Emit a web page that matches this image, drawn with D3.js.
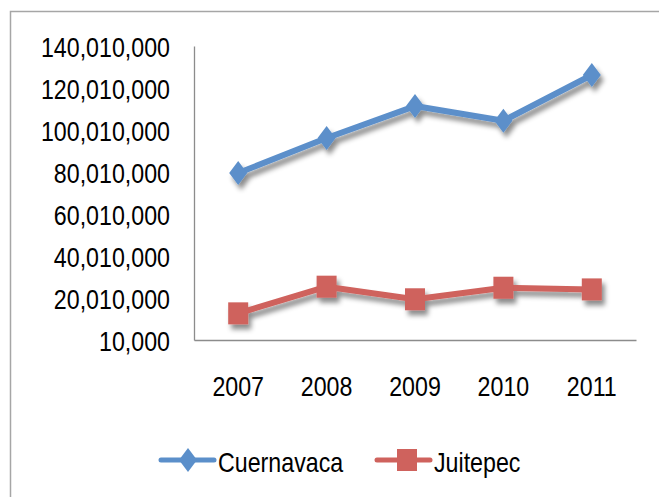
<!DOCTYPE html>
<html>
<head>
<meta charset="utf-8">
<script src="https://cdn.jsdelivr.net/npm/d3@7"></script>
<style>
  body { margin: 0; background: #fff; }
  text { font-family: "Liberation Sans", Arial, sans-serif; fill: #000; }
</style>
</head>
<body>
<div id="chart"></div>
<script>
// data
var years = ["2007", "2008", "2009", "2010", "2011"];
var cuernavaca = [79500000, 96200000, 111400000, 104400000, 126200000];
var juitepec = [12700000, 25400000, 19400000, 24900000, 24100000];
var yTicks = [10000, 20010000, 40010000, 60010000, 80010000, 100010000, 120010000, 140010000];
var seriesNames = ["Cuernavaca", "Juitepec"];
var seriesColors = ["#5B8FCA", "#CF625D"];

var W = 659, H = 497;
var margin = {top: 46, right: 23, bottom: 157, left: 194},
    width = W - margin.left - margin.right,
    height = H - margin.top - margin.bottom;

var squeeze = 0.86; // text in the picture is horizontally narrower

var svg = d3.select("#chart").append("svg")
  .attr("width", W).attr("height", H);

// drop shadow
var f = svg.append("defs").append("filter").attr("id", "shadow")
  .attr("x", "-50%").attr("y", "-50%").attr("width", "200%").attr("height", "200%");
f.append("feDropShadow").attr("dx", 3).attr("dy", 5).attr("stdDeviation", 2.5)
  .attr("flood-color", "#000").attr("flood-opacity", 0.45);

// outer chart border
svg.append("rect").attr("x", 10.5).attr("y", 11.5).attr("width", 700).attr("height", 600)
  .attr("fill", "none").attr("stroke", "#a6a6a6").attr("stroke-width", 1.5);

var g = svg.append("g").attr("transform", "translate(" + margin.left + "," + margin.top + ")");

var x = d3.scaleBand().domain(years).range([0, width]);
var y = d3.scaleLinear().domain([10000, 140010000]).range([height, 0]);

// axes
var yAxis = g.append("g").call(d3.axisLeft(y).tickValues(yTicks).tickSize(0).tickPadding(24)
  .tickFormat(d3.format(",")));
var xAxis = g.append("g").attr("transform", "translate(0," + height + ")")
  .call(d3.axisBottom(x).tickSize(0));

[yAxis, xAxis].forEach(function(a) {
  a.select(".domain").attr("stroke", "#8c8c8c").attr("stroke-width", 1.3);
  a.selectAll("text").attr("font-size", "27px").attr("fill", "#000")
    .attr("font-family", "'Liberation Sans', Arial, sans-serif");
});
yAxis.selectAll("text").attr("x", -24 / squeeze).attr("dy", "0.39em")
  .attr("transform", "scale(" + squeeze + ",1)");
xAxis.selectAll("text").attr("y", 56).attr("dy", 0)
  .attr("transform", "scale(" + squeeze + ",1)")
  .attr("x", 0);

var line = d3.line()
  .x(function(d, i) { return x(years[i]) + x.bandwidth() / 2; })
  .y(function(d) { return y(d); });

function diamond(cx, cy) {
  return "M" + cx + "," + (cy - 12) + "L" + (cx + 9) + "," + cy + "L" + cx + "," + (cy + 12) + "L" + (cx - 9) + "," + cy + "Z";
}

var allSeries = [cuernavaca, juitepec];
allSeries.forEach(function(vals, s) {
  var sg = g.append("g").attr("filter", "url(#shadow)");
  sg.append("path").datum(vals).attr("d", line)
    .attr("fill", "none").attr("stroke", seriesColors[s]).attr("stroke-width", 6)
    .attr("stroke-linejoin", "round");
  if (s === 0) {
    sg.selectAll("path.m").data(vals).enter().append("path").attr("class", "m")
      .attr("d", function(d, i) { return diamond(x(years[i]) + x.bandwidth() / 2, y(d)); })
      .attr("fill", seriesColors[s]);
  } else {
    sg.selectAll("rect.m").data(vals).enter().append("rect").attr("class", "m")
      .attr("x", function(d, i) { return x(years[i]) + x.bandwidth() / 2 - 10; })
      .attr("y", function(d) { return y(d) - 11; })
      .attr("width", 20).attr("height", 22)
      .attr("fill", seriesColors[s]);
  }
});

// legend
var legendX = [161, 377];
var legend = svg.append("g");
seriesNames.forEach(function(name, s) {
  var lx = legendX[s], ly = 460;
  var lg = legend.append("g");
  lg.append("line").attr("x1", lx).attr("x2", lx + 53).attr("y1", ly).attr("y2", ly)
    .attr("stroke", seriesColors[s]).attr("stroke-width", 5).attr("stroke-linecap", "round");
  if (s === 0) {
    lg.append("path").attr("d", diamond(lx + 27, ly)).attr("fill", seriesColors[s]);
  } else {
    lg.append("rect").attr("x", lx + 20).attr("y", ly - 11).attr("width", 20).attr("height", 22)
      .attr("fill", seriesColors[s]);
  }
  lg.append("text").attr("transform", "translate(" + (lx + 57) + "," + (ly + 12) + ") scale(" + squeeze + ",1)")
    .attr("font-size", "27px").text(name);
});
</script>
</body>
</html>
